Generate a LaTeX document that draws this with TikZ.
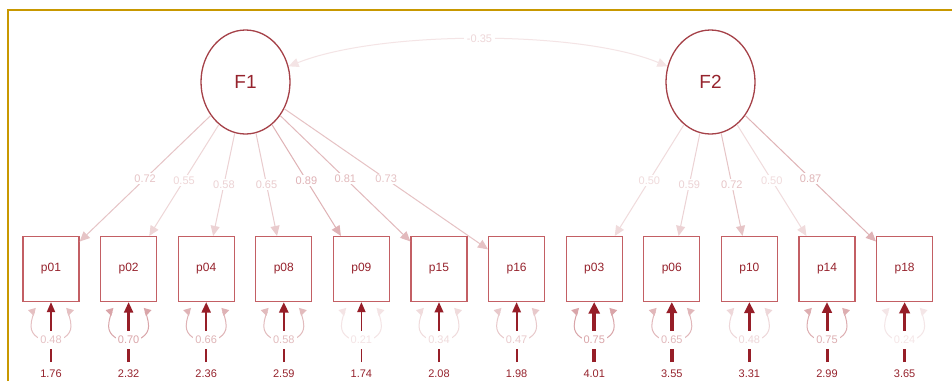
\documentclass[tikz,border=0pt]{standalone}
\usepackage{fontspec}
\setmainfont{Liberation Sans}
\usetikzlibrary{arrows.meta,shapes.geometric,calc}
\definecolor{goldframe}{RGB}{200,152,0}
\definecolor{darkred}{RGB}{150,35,45}
\definecolor{boxred}{RGB}{195,95,100}
\definecolor{ellred}{RGB}{165,65,72}
\definecolor{basered}{RGB}{180,75,82}
\definecolor{intred}{RGB}{150,30,40}
\begin{document}
\begin{tikzpicture}[x=1pt,y=-1pt,
  latent/.style={ellipse, draw=ellred, line width=1.3pt, minimum width=89pt, minimum height=104pt, inner sep=0pt, font=\fontsize{19}{19}\selectfont, text=darkred},
  manifest/.style={rectangle, draw=boxred, line width=1.2pt, minimum width=56pt, minimum height=65pt, inner sep=0pt, font=\fontsize{12}{12}\selectfont, text=darkred},
  loading/.style={draw=basered!#1!white, line width=1pt, -{Triangle[length=10pt,width=9pt]}},
  loadlab/.style={fill=white, inner sep=1.5pt, text=basered!#1!white, font=\fontsize{11}{11}\selectfont},
  residloop/.style={draw=basered!#1!white, line width=1pt, {Triangle[length=7pt,width=8pt]}-{Triangle[length=7pt,width=8pt]}},
  residlab/.style={fill=white, inner xsep=2pt, inner ysep=5pt, text=basered!#1!white, font=\fontsize{11}{11}\selectfont},
  intlab/.style={inner sep=0pt, text=darkred, font=\fontsize{11}{11}\selectfont},
  covlab/.style={fill=white, inner sep=3pt, text=basered!22!white, font=\fontsize{11}{11}\selectfont}
]
\fill[white] (0,0) rectangle (952,381);
\useasboundingbox (0,0) rectangle (952,381);
% frame
\draw[goldframe, line width=2pt] (8,381) -- (8,10) -- (952,10);

% latent variables
\node[latent] (F1) at (245.5,82) {F1};
\node[latent] (F2) at (710.5,82) {F2};

% manifest variables
\foreach \n/\x in {p01/51,p02/128.6,p04/206.2,p08/283.8,p09/361.4,p15/439,p16/516.6,p03/594.2,p06/671.8,p10/749.4,p14/827,p18/904.6}{
  \node[manifest] (\n) at (\x,269) {\n};
}

% covariance
\draw[draw=basered!15!white, line width=1pt, {Triangle[length=10pt,width=9pt]}-{Triangle[length=10pt,width=9pt]}]
  (F1.20) .. controls (380,30) and (580,30) .. (F2.160) node[midway, covlab] (cov) {-0.35};

% loadings
\foreach \t/\v/\c in {p01/0.72/33,p02/0.55/23,p04/0.58/25,p08/0.65/29,p09/0.89/43,p15/0.81/39,p16/0.73/34}{
  \draw[loading=\c] (F1) -- (\t) node[midway, loadlab=\c] {\v};
}
\foreach \t/\v/\c in {p03/0.50/20,p06/0.59/25,p10/0.72/33,p14/0.50/20,p18/0.87/42}{
  \draw[loading=\c] (F2) -- (\t) node[midway, loadlab=\c] {\v};
}

% residuals and intercepts
\foreach \n/\x/\r/\rc/\ic in {p01/51/0.48/35/1.76,p02/128.6/0.70/50/2.32,p04/206.2/0.66/42/2.36,p08/283.8/0.58/38/2.59,p09/361.4/0.21/15/1.74,p15/439/0.34/20/2.08,p16/516.6/0.47/30/1.98,p03/594.2/0.75/50/4.01,p06/671.8/0.65/40/3.55,p10/749.4/0.48/22/3.31,p14/827/0.75/45/2.99,p18/904.6/0.24/14/3.65}{
  \pgfmathsetmacro\aw{6+1.2*\ic}
  \pgfmathsetmacro\al{9+0.6*\ic}
  \draw[residloop=\rc] ([shift={(-23,8)}]\n.south) to[out=-15,in=90] ([shift={(-20,24)}]\n.south)
     to[out=-90,in=180] ([shift={(0,39)}]\n.south) to[out=0,in=-90] ([shift={(20,24)}]\n.south)
     to[out=90,in=195] ([shift={(23,8)}]\n.south);
  \coordinate (s\n) at (\x,362);
  \draw[draw=intred, line width=\ic pt, -{Triangle[length=\al pt,width=\aw pt]}] (s\n) -- (\n);
  \node[residlab=\rc] (r\n) at (\x,340) {\r};
  \node[intlab] (i\n) at (\x,374) {\ic};
}
\end{tikzpicture}
\end{document}
